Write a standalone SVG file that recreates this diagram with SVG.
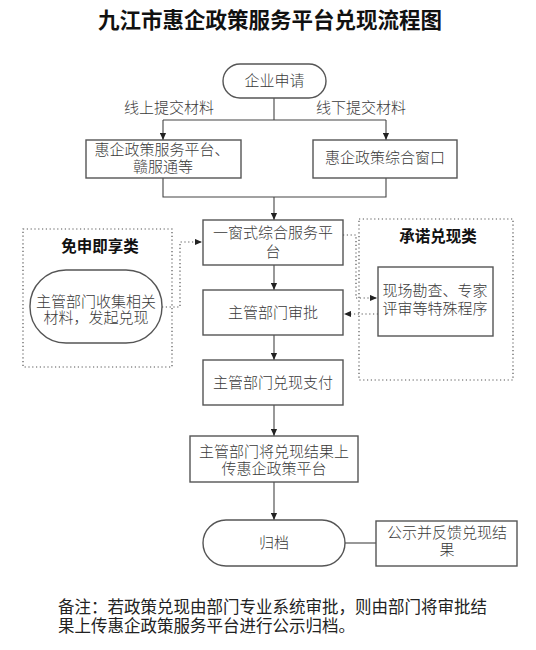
<svg xmlns="http://www.w3.org/2000/svg" width="536" height="650" viewBox="0 0 536 650">
<defs>
<style>
.t{font-family:"Liberation Serif","Noto Sans CJK SC",serif;font-size:15px;font-weight:300;fill:#3a3a3a;text-anchor:middle}
.title{font-family:"Liberation Serif","Noto Sans CJK SC",serif;font-size:21.5px;font-weight:bold;fill:#111;text-anchor:middle}
.bt{font-family:"Liberation Serif","Noto Sans CJK SC",serif;font-size:15.5px;font-weight:bold;fill:#111;text-anchor:middle}
.note{font-family:"Liberation Sans","Noto Sans CJK SC",sans-serif;font-size:16.5px;fill:#222}
.box{fill:#fff;stroke:#555;stroke-width:1.4}
.dot{fill:none;stroke:#555;stroke-width:1.2;stroke-dasharray:1.2 2.6}
.ln{fill:none;stroke:#444;stroke-width:1.1}
</style>
<marker id="ah" viewBox="0 0 8 8" refX="8" refY="4" markerWidth="7" markerHeight="7" markerUnits="userSpaceOnUse" orient="auto">
<path d="M0,0.5 L8,4 L0,7.5 Z" fill="#222"/>
</marker>
</defs>
<rect width="536" height="650" fill="#fff"/>
<text class="title" x="270" y="28">九江市惠企政策服务平台兑现流程图</text>

<g id="conns">
<path class="ln" d="M274,98 V120 M163,120 H386"/>
<path class="ln" d="M163,120 V140" marker-end="url(#ah)"/>
<path class="ln" d="M386,120 V140" marker-end="url(#ah)"/>
<path class="ln" d="M163,178 V197 H386 V178"/>
<path class="ln" d="M274,197 V220" marker-end="url(#ah)"/>
<path class="ln" d="M274,265 V290" marker-end="url(#ah)"/>
<path class="ln" d="M274,335 V360" marker-end="url(#ah)"/>
<path class="ln" d="M274,405 V436" marker-end="url(#ah)"/>
<path class="ln" d="M274,482 V520" marker-end="url(#ah)"/>
<path class="ln" d="M345,543 H376"/>
<path class="dot" d="M162,307 H180 V242 H202" marker-end="url(#ah)"/>
<path class="dot" d="M343,235 H356 V298 H377" marker-end="url(#ah)"/>
<path class="dot" d="M378,314 H344" marker-end="url(#ah)"/>
</g>

<g id="label-online"><text class="t" x="169" y="113">线上提交材料</text></g>
<g id="label-offline"><text class="t" x="361" y="113">线下提交材料</text></g>

<g id="n-apply">
<rect class="box" x="223" y="64" width="103" height="34" rx="17"/>
<text class="t" x="274.5" y="86">企业申请</text>
</g>
<g id="n-online">
<rect class="box" x="86" y="140" width="155" height="38"/>
<text class="t" x="162" y="155">惠企政策服务平台、</text>
<text class="t" x="163" y="172">赣服通等</text>
</g>
<g id="n-offline">
<rect class="box" x="313" y="140" width="144" height="38"/>
<text class="t" x="385" y="163">惠企政策综合窗口</text>
</g>
<g id="n-window">
<rect class="box" x="203" y="220" width="140" height="45"/>
<text class="t" x="273" y="238">一窗式综合服务平</text>
<text class="t" x="273" y="257">台</text>
</g>
<g id="n-approve">
<rect class="box" x="203" y="290" width="140" height="45"/>
<text class="t" x="273" y="318">主管部门审批</text>
</g>
<g id="n-pay">
<rect class="box" x="203" y="360" width="140" height="45"/>
<text class="t" x="273" y="388">主管部门兑现支付</text>
</g>
<g id="n-upload">
<rect class="box" x="190" y="436" width="168" height="46"/>
<text class="t" x="274" y="457">主管部门将兑现结果上</text>
<text class="t" x="274" y="474">传惠企政策平台</text>
</g>
<g id="n-archive">
<rect class="box" x="203" y="520" width="142" height="46" rx="23"/>
<text class="t" x="274" y="548">归档</text>
</g>
<g id="n-publish">
<rect class="box" x="376" y="521" width="141" height="45"/>
<text class="t" x="447" y="538">公示并反馈兑现结</text>
<text class="t" x="447" y="555">果</text>
</g>

<g id="g-exempt">
<rect class="dot" x="23" y="229" width="149" height="138"/>
<text class="bt" x="100" y="252">免申即享类</text>
</g>
<g id="n-collect">
<rect class="box" x="30" y="270" width="132" height="73" rx="36"/>
<text class="t" x="96" y="307">主管部门收集相关</text>
<text class="t" x="96" y="323">材料，发起兑现</text>
</g>
<g id="g-promise">
<rect class="dot" x="359" y="219" width="154" height="161"/>
<text class="bt" x="438" y="242">承诺兑现类</text>
</g>
<g id="n-special">
<rect class="box" x="378" y="267" width="115" height="69"/>
<text class="t" x="435" y="296">现场勘查、专家</text>
<text class="t" x="435" y="314">评审等特殊程序</text>
</g>

<g id="note">
<text class="note" x="58" y="613">备注：若政策兑现由部门专业系统审批，则由部门将审批结</text>
<text class="note" x="58" y="632">果上传惠企政策服务平台进行公示归档。</text>
</g>
</svg>
